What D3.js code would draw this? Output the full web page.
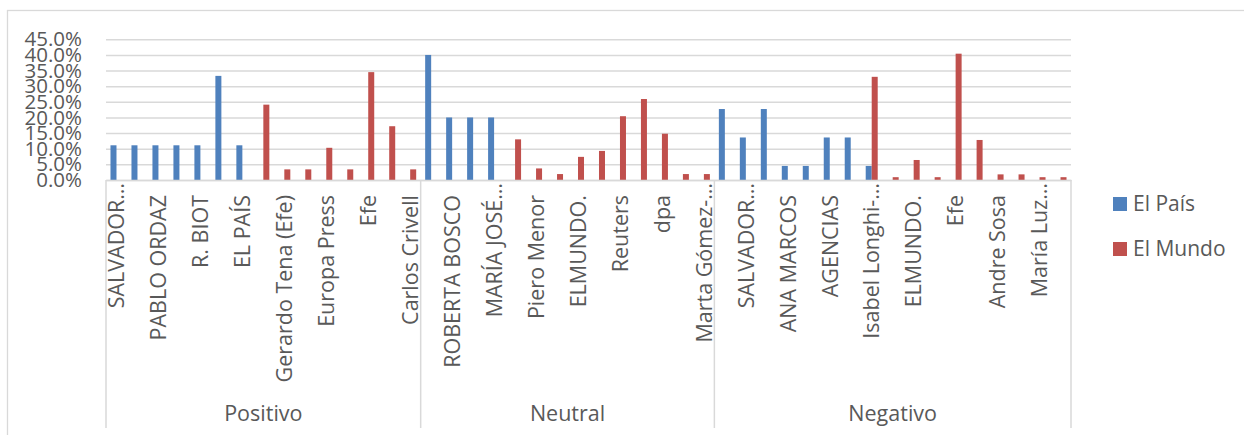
<!DOCTYPE html>
<html>
<head>
<meta charset="utf-8">
<script src="https://cdn.jsdelivr.net/npm/d3@7"></script>
<style>
  html, body { margin: 0; padding: 0; background: #fff; }
  svg { display: block; }
  text { font-family: "Open Sans", sans-serif; fill: #595959; }
</style>
</head>
<body>
<svg id="chart" width="1244" height="435"></svg>
<script>
// ---------- DATA ----------
// 46 author categories (only every other one is labelled in the chart)
const categories = [
  "SALVADOR…", "", "PABLO ORDAZ", "", "R. BIOT", "", "EL PAÍS", "",
  "Gerardo Tena (Efe)", "", "Europa Press", "", "Efe", "", "Carlos Crivell",
  "", "ROBERTA BOSCO", "", "MARÍA JOSÉ…", "", "Piero Menor", "", "ELMUNDO.", "",
  "Reuters", "", "dpa", "", "Marta Gómez-…",
  "", "SALVADOR…", "", "ANA MARCOS", "", "AGENCIAS", "", "Isabel Longhi-…", "",
  "ELMUNDO.", "", "Efe", "", "Andre Sosa", "", "María Luz…", ""
];
const groups = ["Positivo", "Neutral", "Negativo"];
const groupSizes = [15, 14, 17];
const seriesNames = ["El País", "El Mundo"];
const elPais = [
  0.111, 0.111, 0.111, 0.111, 0.111, 0.333, 0.111, null,
  null, null, null, null, null, null, null,
  0.40, 0.20, 0.20, 0.20, null, null, null, null,
  null, null, null, null, null, null,
  0.227, 0.136, 0.227, 0.045, 0.045, 0.136, 0.136, 0.045, null,
  null, null, null, null, null, null, null, null
];
const elMundo = [
  null, null, null, null, null, null, null, 0.241,
  0.034, 0.034, 0.103, 0.034, 0.345, 0.172, 0.034,
  null, null, null, null, 0.130, 0.037, 0.019, 0.074,
  0.093, 0.204, 0.259, 0.148, 0.019, 0.019,
  null, null, null, null, null, null, null, 0.330, 0.009,
  0.064, 0.009, 0.404, 0.128, 0.018, 0.018, 0.009, 0.009
];
const yTicks = [0, 0.05, 0.10, 0.15, 0.20, 0.25, 0.30, 0.35, 0.40, 0.45];
const colors = ["#4F81BD", "#C0504D"];

// ---------- LAYOUT ----------
const svg = d3.select("#chart");
const plot = { left: 106, right: 1071, top: 39.3, bottom: 180 };
const gridColor = "#d9d9d9";

// chart area border
svg.append("rect")
  .attr("x", 7.5).attr("y", 10.5)
  .attr("width", 1300).attr("height", 500)
  .attr("fill", "none").attr("stroke", gridColor).attr("stroke-width", 1.3);

const x = d3.scaleBand().domain(d3.range(categories.length))
  .range([plot.left, plot.right]).paddingInner(0).paddingOuter(0);
const barW = 6;
const xs = d3.scaleBand().domain(seriesNames).range([-barW, barW]);
const y = d3.scaleLinear().domain([0, 0.45]).range([plot.bottom, plot.top]);

// y axis with gridlines
const yAxis = d3.axisLeft(y).tickValues(yTicks)
  .tickFormat(d3.format(".1%"))
  .tickSize(-(plot.right - plot.left)).tickPadding(24);
const gy = svg.append("g").attr("transform", `translate(${plot.left},0)`).call(yAxis);
gy.select(".domain").remove();
gy.selectAll(".tick line").attr("stroke", gridColor).attr("stroke-width", 1.5);
gy.selectAll(".tick text")
  .style("font-family", "'Open Sans', sans-serif")
  .style("font-size", "20.5px").attr("fill", "#595959").attr("dy", "0.32em");

// bars
const series = [elPais, elMundo];
series.forEach((vals, si) => {
  svg.append("g").selectAll("rect")
    .data(vals.map((v, i) => ({ v, i })).filter(d => d.v != null))
    .join("rect")
    .attr("x", d => x(d.i) + x.bandwidth() / 2 + xs(seriesNames[si]))
    .attr("width", xs.bandwidth())
    .attr("y", d => y(d.v))
    .attr("height", d => y(0) - y(d.v))
    .attr("fill", colors[si]);
});

// category axis
const xAxis = d3.axisBottom(x)
  .tickValues(d3.range(0, categories.length, 2))
  .tickFormat(i => categories[i]).tickSize(0);
const gx = svg.append("g").attr("transform", `translate(0,${plot.bottom})`).call(xAxis);
gx.select(".domain").attr("stroke", gridColor).attr("stroke-width", 1.5);
gx.selectAll(".tick text")
  .style("font-family", "'Open Sans', sans-serif")
  .style("font-size", "21.5px").attr("fill", "#595959")
  .attr("text-anchor", "end")
  .attr("transform", "rotate(-90)")
  .attr("y", 0).attr("dy", "0.36em")
  .attr("x", function (i) { return categories[i].endsWith("…") ? -3 : -15; });

// group separators
const bounds = [0];
groupSizes.forEach((n, k) => bounds.push(bounds[k] + n));
const sepX = bounds.map(b => b < categories.length ? x(b) : plot.right);
svg.append("g").selectAll("line").data(sepX).join("line")
  .attr("x1", d => d).attr("x2", d => d)
  .attr("y1", plot.bottom).attr("y2", 428)
  .attr("stroke", gridColor).attr("stroke-width", 1.5);

// group labels
svg.append("g").selectAll("text").data(groups).join("text")
  .attr("x", (d, k) => (sepX[k] + sepX[k + 1]) / 2)
  .attr("y", 420.7)
  .attr("text-anchor", "middle")
  .style("font-size", "21.5px")
  .text(d => d);

// legend
const lg = svg.append("g");
seriesNames.forEach((name, si) => {
  const row = lg.append("g").attr("transform", `translate(1113,${197 + si * 45})`);
  row.append("rect").attr("width", 14).attr("height", 14).attr("fill", colors[si]);
  row.append("text").attr("x", 20).attr("y", 13.7)
    .style("font-size", "21px").text(name);
});
</script>
</body>
</html>
